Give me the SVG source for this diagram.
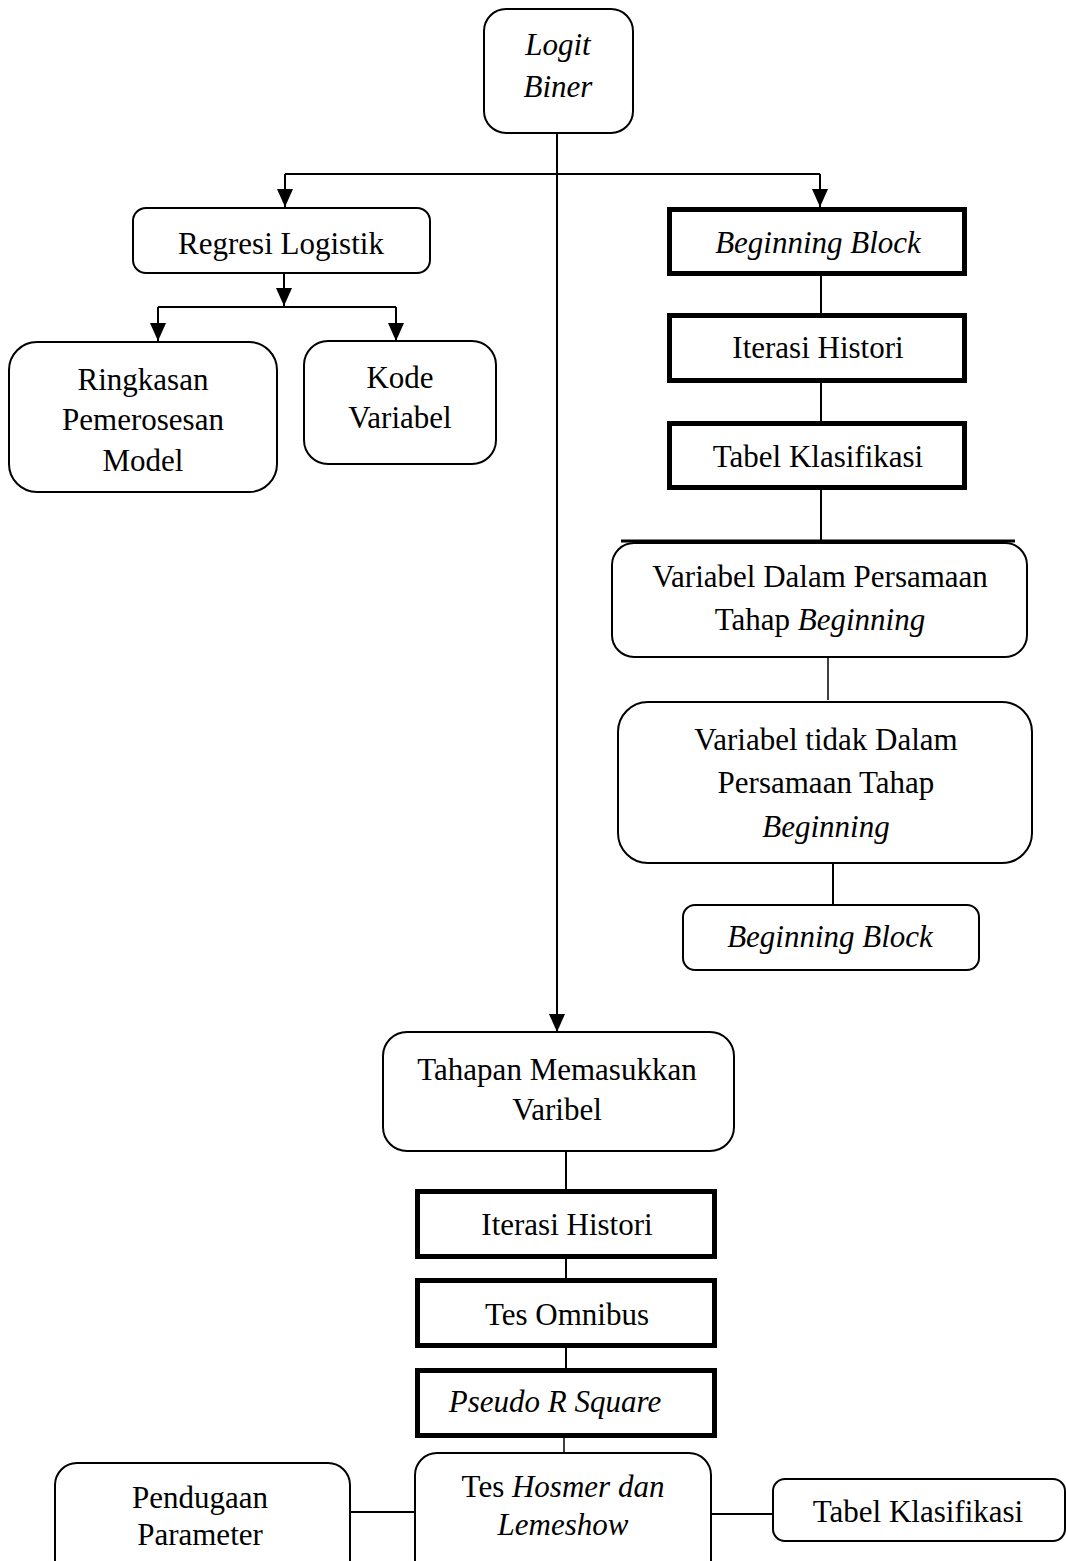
<svg xmlns="http://www.w3.org/2000/svg" width="1066" height="1561" viewBox="0 0 1066 1561">
<style>
text{font-family:"Liberation Serif","Times New Roman",serif;font-size:31px;fill:#000;text-anchor:middle}
.i{font-style:italic}
.rb{fill:#fff;stroke:#000;stroke-width:2}
.tb{fill:#fff;stroke:#000;stroke-width:5}
.c{fill:none;stroke:#000;stroke-width:2}
</style>
<defs>
<marker id="ah" markerUnits="userSpaceOnUse" markerWidth="18" markerHeight="16" viewBox="0 0 18 16" refX="18" refY="8" orient="auto">
<path d="M0,0 L18,8 L0,16 Z" fill="#000"/>
</marker>
</defs>
<g id="connectors">
<path class="c" d="M557,133 V1032" marker-end="url(#ah)"/>
<path class="c" d="M285,174 H820"/>
<path class="c" d="M285,174 V207" marker-end="url(#ah)"/>
<path class="c" d="M820,174 V207" marker-end="url(#ah)"/>
<path class="c" d="M284,273 V306" marker-end="url(#ah)"/>
<path class="c" d="M158,307 H396"/>
<path class="c" d="M158,307 V341" marker-end="url(#ah)"/>
<path class="c" d="M396,307 V341" marker-end="url(#ah)"/>
<path class="c" d="M821,275 V313"/>
<path class="c" d="M821,383 V421"/>
<path class="c" d="M821,490 V541"/>
<path fill="none" stroke="#000" stroke-width="3" d="M621,541 H1015"/>
<path fill="none" stroke="#000" stroke-width="1.5" d="M828,658 V700"/>
<path class="c" d="M833,863 V905"/>
<path class="c" d="M566,1151 V1189"/>
<path class="c" d="M566,1259 V1278"/>
<path class="c" d="M566,1348 V1368"/>
<path fill="none" stroke="#000" stroke-width="1.5" d="M564,1438 V1453"/>
<path class="c" d="M350,1512 H423"/>
<path class="c" d="M711,1514 H773"/>
</g>
<g id="n-logit"><rect class="rb" x="484" y="9" width="149" height="124" rx="22"/><text class="i" x="558" y="55">Logit</text><text class="i" x="558" y="97">Biner</text></g>
<g id="n-regresi"><rect class="rb" x="133" y="208" width="297" height="65" rx="13"/><text x="281" y="254">Regresi Logistik</text></g>
<g id="n-ringkasan"><rect class="rb" x="9" y="342" width="268" height="150" rx="28"/><text x="143" y="390">Ringkasan</text><text x="143" y="430">Pemerosesan</text><text x="143" y="471">Model</text></g>
<g id="n-kode"><rect class="rb" x="304" y="341" width="192" height="123" rx="24"/><text x="400" y="388">Kode</text><text x="400" y="428">Variabel</text></g>
<g id="n-bb1"><rect class="tb" x="669.5" y="209.5" width="295" height="64"/><text class="i" x="818" y="253">Beginning Block</text></g>
<g id="n-ih1"><rect class="tb" x="669.5" y="315.5" width="295" height="65"/><text x="818" y="358">Iterasi Histori</text></g>
<g id="n-tk1"><rect class="tb" x="669.5" y="423.5" width="295" height="64"/><text x="818" y="467">Tabel Klasifikasi</text></g>
<g id="n-vdp"><rect class="rb" x="612" y="543" width="415" height="114" rx="22"/><text x="820" y="587">Variabel Dalam Persamaan</text><text x="820" y="630">Tahap <tspan class="i">Beginning</tspan></text></g>
<g id="n-vtdp"><rect class="rb" x="618" y="702" width="414" height="161" rx="30"/><text x="826" y="750">Variabel tidak Dalam</text><text x="826" y="793">Persamaan Tahap</text><text class="i" x="826" y="837">Beginning</text></g>
<g id="n-bb2"><rect class="rb" x="683" y="905" width="296" height="65" rx="12"/><text class="i" x="830" y="947">Beginning Block</text></g>
<g id="n-tahapan"><rect class="rb" x="383" y="1032" width="351" height="119" rx="24"/><text x="557" y="1080">Tahapan Memasukkan</text><text x="557" y="1120">Varibel</text></g>
<g id="n-ih2"><rect class="tb" x="417.5" y="1191.5" width="297" height="65"/><text x="567" y="1235">Iterasi Histori</text></g>
<g id="n-omni"><rect class="tb" x="417.5" y="1280.5" width="297" height="65"/><text x="567" y="1325">Tes Omnibus</text></g>
<g id="n-pseudo"><rect class="tb" x="417.5" y="1370.5" width="297" height="65"/><text class="i" x="555" y="1412">Pseudo R Square</text></g>
<g id="n-hosmer"><rect class="rb" x="415" y="1453" width="296" height="140" rx="22"/><text x="563" y="1497">Tes <tspan class="i">Hosmer dan</tspan></text><text class="i" x="563" y="1535">Lemeshow</text></g>
<g id="n-pendugaan"><rect class="rb" x="55" y="1463" width="295" height="130" rx="22"/><text x="200" y="1508">Pendugaan</text><text x="200" y="1545">Parameter</text></g>
<g id="n-tk2"><rect class="rb" x="773" y="1479" width="292" height="62" rx="12"/><text x="918" y="1522">Tabel Klasifikasi</text></g>
</svg>
